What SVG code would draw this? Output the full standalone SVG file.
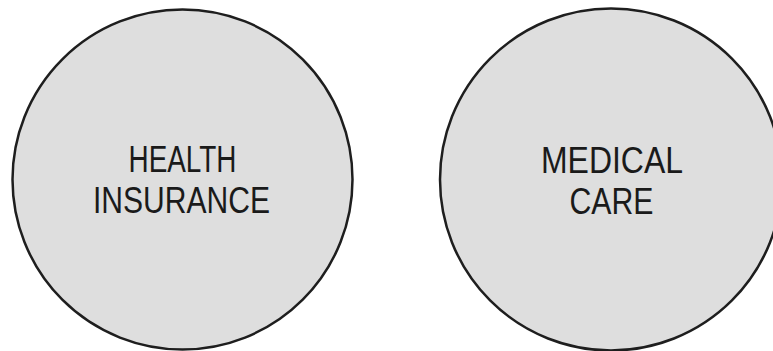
<svg xmlns="http://www.w3.org/2000/svg" width="773" height="351" viewBox="0 0 773 351">
<style>
.c{fill:#dedede;stroke:#1e1e1e;stroke-width:2.5}
.t{font-family:"Liberation Sans","DejaVu Sans",sans-serif;font-size:36px;fill:#1a1a1a;text-anchor:middle}
</style>
<rect width="773" height="351" fill="#ffffff"/>
<g id="health-insurance">
<circle class="c" cx="182.5" cy="179.5" r="170"/>
<text class="t" x="182.5" y="172" textLength="108" lengthAdjust="spacingAndGlyphs">HEALTH</text>
<text class="t" x="181.5" y="213" textLength="177" lengthAdjust="spacingAndGlyphs">INSURANCE</text>
</g>
<g id="medical-care">
<circle class="c" cx="611" cy="179.5" r="171"/>
<text class="t" x="612" y="173" textLength="142" lengthAdjust="spacingAndGlyphs">MEDICAL</text>
<text class="t" x="611.5" y="214" textLength="84" lengthAdjust="spacingAndGlyphs">CARE</text>
</g>
<g id="connectors"></g>
</svg>
